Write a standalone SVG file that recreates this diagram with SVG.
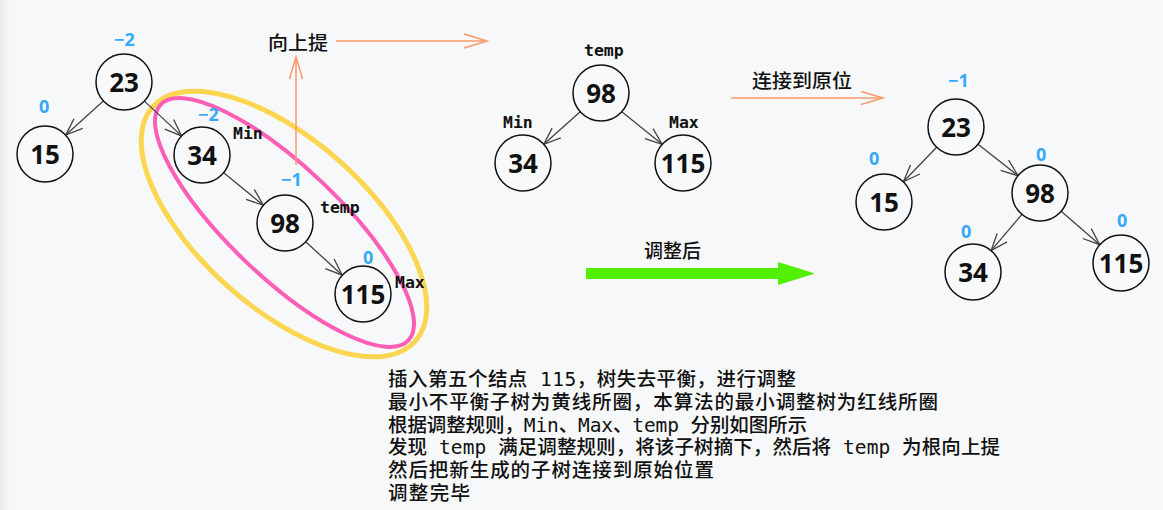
<svg xmlns="http://www.w3.org/2000/svg" width="1163" height="510" viewBox="0 0 1163 510">
<style>
.n circle{fill:#f8f9fb;stroke:#111;stroke-width:1.5}
.n text{font-family:"Noto Sans","Open Sans",sans-serif;font-weight:700;font-size:26px;fill:#111;text-anchor:middle}
.bf{font-family:"Noto Sans","Open Sans",sans-serif;font-weight:700;font-size:18px;fill:#36a9f7}
.ml{font-family:"DejaVu Sans Mono",monospace;font-weight:700;font-size:16.5px;fill:#111}
.cj{font-family:"Noto Sans CJK SC",sans-serif;font-weight:500;font-size:19px;fill:#111}
.edge{stroke:#444;stroke-width:1.3;fill:none;marker-end:url(#ah)}
.or{stroke:#fb9a68;stroke-width:1.5;fill:none}
.bt{font-family:"DejaVu Sans Mono","Noto Sans CJK SC",monospace;font-weight:500;font-size:19.5px;fill:#111}
</style>
<defs>
<marker id="ah" markerUnits="userSpaceOnUse" markerWidth="30" markerHeight="20" viewBox="-20 -10 30 20" refX="0" refY="0" orient="auto">
<path d="M-17,-6.5 L0,0 L-17,6.5" fill="none" stroke="#444" stroke-width="1.3"/>
</marker>
<linearGradient id="lg" x1="0" y1="0" x2="1" y2="0"><stop offset="0" stop-color="#e9eaec"/><stop offset="1" stop-color="#f7f8fa" stop-opacity="0"/></linearGradient>
</defs>
<rect width="1163" height="510" fill="#f7f8fa"/>
<rect width="14" height="510" fill="url(#lg)"/>
<g id="rings">
<ellipse cx="284" cy="224" rx="176" ry="84" transform="rotate(41.7 284 224)" fill="none" stroke="#fcd651" stroke-width="5"/>
<ellipse cx="284.5" cy="222.5" rx="171" ry="55" transform="rotate(43.6 284.5 222.5)" fill="none" stroke="#fd5fb6" stroke-width="4"/>
</g>
<g id="connectors">
<line class="edge" x1="103.3" y1="100.9" x2="65.7" y2="135.1"/>
<line class="edge" x1="144.4" y1="101.1" x2="181.6" y2="135.9"/>
<line class="edge" x1="223.7" y1="172.7" x2="263.3" y2="205.2"/>
<line class="edge" x1="305.7" y1="241.8" x2="342.3" y2="275.2"/>
<line class="edge" x1="580.2" y1="111.7" x2="543.8" y2="144.3"/>
<line class="edge" x1="621.8" y1="111.7" x2="662.2" y2="144.3"/>
<line class="edge" x1="936.6" y1="147.2" x2="903.4" y2="181.8"/>
<line class="edge" x1="978" y1="144.3" x2="1018" y2="175.7"/>
<line class="edge" x1="1021.9" y1="214.4" x2="991.1" y2="250.6"/>
<line class="edge" x1="1061.2" y1="211.3" x2="1099.8" y2="244.7"/>
<g id="up-arrow">
<line class="or" x1="296" y1="165" x2="296" y2="58"/>
<polyline class="or" points="289.5,79 296,57 302.5,79"/>
</g>
<g id="right-arrow">
<line class="or" x1="336" y1="41" x2="486" y2="41"/>
<polyline class="or" points="464,34 487,41 464,48"/>
</g>
<g id="connect-arrow">
<line class="or" x1="731" y1="98" x2="882" y2="98"/>
<polyline class="or" points="861,91.5 883,98 861,104.5"/>
</g>
<polygon id="green-arrow" points="586,268 778,268 778,262 815,273.5 778,285 778,279 586,279" fill="#50f000"/>
</g>
<g id="L23" class="n"><circle cx="124" cy="82" r="28"/><text x="124" y="91.5">23</text></g>
<g id="L15" class="n"><circle cx="45" cy="154" r="28"/><text x="45" y="163.5">15</text></g>
<g id="L34" class="n"><circle cx="202" cy="155" r="28"/><text x="202" y="164.5">34</text></g>
<g id="L98" class="n"><circle cx="285" cy="223" r="28"/><text x="285" y="232.5">98</text></g>
<g id="L115" class="n"><circle cx="363" cy="294" r="28"/><text x="363" y="303.5">115</text></g>
<g id="M98" class="n"><circle cx="601" cy="93" r="28"/><text x="601" y="102.5">98</text></g>
<g id="M34" class="n"><circle cx="523" cy="163" r="28"/><text x="523" y="172.5">34</text></g>
<g id="M115" class="n"><circle cx="683" cy="163" r="28"/><text x="683" y="172.5">115</text></g>
<g id="R23" class="n"><circle cx="956" cy="127" r="28"/><text x="956" y="136.5">23</text></g>
<g id="R15" class="n"><circle cx="884" cy="202" r="28"/><text x="884" y="211.5">15</text></g>
<g id="R98" class="n"><circle cx="1040" cy="193" r="28"/><text x="1040" y="202.5">98</text></g>
<g id="R34" class="n"><circle cx="973" cy="272" r="28"/><text x="973" y="281.5">34</text></g>
<g id="R115" class="n"><circle cx="1121" cy="263" r="28"/><text x="1121" y="272.5">115</text></g>
<g id="balance">
<text class="bf" x="114" y="46">−2</text>
<text class="bf" x="39" y="113">0</text>
<text class="bf" x="198" y="121">−2</text>
<text class="bf" x="281" y="186">−1</text>
<text class="bf" x="363" y="264">0</text>
<text class="bf" x="948" y="87">−1</text>
<text class="bf" x="869" y="165">0</text>
<text class="bf" x="1036" y="161">0</text>
<text class="bf" x="961" y="238">0</text>
<text class="bf" x="1117" y="227">0</text>
</g>
<g id="roles">
<text class="ml" x="233" y="139">Min</text>
<text class="ml" x="320" y="213">temp</text>
<text class="ml" x="395" y="288">Max</text>
<text class="ml" x="584" y="56">temp</text>
<text class="ml" x="503" y="128">Min</text>
<text class="ml" x="669" y="128">Max</text>
</g>
<g id="labels">
<text class="cj" x="268" y="50" textLength="60" lengthAdjust="spacingAndGlyphs">向上提</text>
<text class="cj" x="752" y="88" textLength="100" lengthAdjust="spacingAndGlyphs">连接到原位</text>
<text class="cj" x="644" y="258" textLength="57" lengthAdjust="spacingAndGlyphs">调整后</text>
</g>
<g id="notes" class="bt">
<text x="388" y="386" textLength="408" lengthAdjust="spacing">插入第五个结点 115，树失去平衡，进行调整</text>
<text x="388" y="408.8" textLength="550" lengthAdjust="spacing">最小不平衡子树为黄线所圈，本算法的最小调整树为红线所圈</text>
<text x="388" y="431.6" textLength="419" lengthAdjust="spacing">根据调整规则，Min、Max、temp 分别如图所示</text>
<text x="388" y="454.4" textLength="612" lengthAdjust="spacing">发现 temp 满足调整规则，将该子树摘下，然后将 temp 为根向上提</text>
<text x="388" y="477.2" textLength="326" lengthAdjust="spacing">然后把新生成的子树连接到原始位置</text>
<text x="388" y="500" textLength="82" lengthAdjust="spacing">调整完毕</text>
</g>
</svg>
